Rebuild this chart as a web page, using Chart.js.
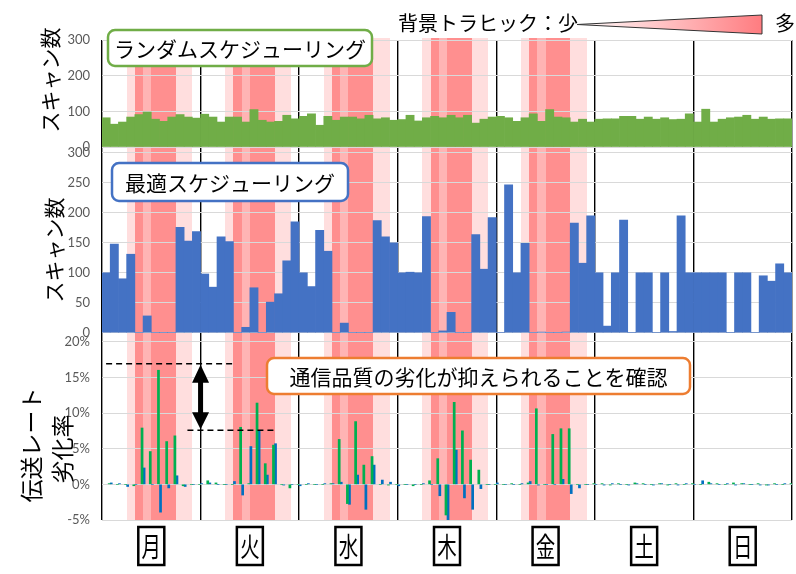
<!DOCTYPE html>
<html>
<head>
<meta charset="utf-8">
<script src="https://cdn.jsdelivr.net/npm/chart.js@4.4.1/dist/chart.umd.min.js"></script>
<style>
  html, body { margin: 0; padding: 0; background: #fff; }
  #wrap { position: relative; width: 796px; height: 574px; }
</style>
</head>
<body>
<div id="wrap"><canvas id="chart" width="796" height="574"></canvas></div>
<script>
// ---- データ ----
const days = ["月", "火", "水", "木", "金", "土", "日"];
const slotsPerDay = 12; // 2時間ごと

// 背景トラヒック (0:なし 1:少 2:中 3:多)、平日のみ
const trafficWeekday = [0, 0, 0, 1, 3, 2, 3, 3, 3, 1, 1, 0];
const isWeekday = [true, true, true, true, true, false, false];

// 目盛り
const scanTicksTop = [0, 100, 200, 300];
const scanTicksMid = [0, 50, 100, 150, 200, 250, 300];
const rateTicks = [-5, 0, 5, 10, 15, 20];

// ランダムスケジューリングのスキャン数 (曜日ごと)
const randomScan = [
  [82, 64, 70, 84, 91, 98, 78, 72, 84, 91, 84, 81],
  [92, 84, 70, 84, 84, 70, 105, 75, 70, 72, 89, 79],
  [86, 93, 61, 86, 75, 84, 84, 79, 89, 79, 82, 75],
  [77, 89, 73, 82, 86, 82, 89, 82, 89, 67, 78, 84],
  [86, 82, 72, 82, 93, 72, 105, 84, 82, 70, 78, 70],
  [78, 79, 79, 86, 86, 78, 84, 78, 82, 77, 78, 93],
  [70, 106, 70, 78, 82, 84, 89, 78, 84, 78, 79, 79],
];

// 最適スケジューリングのスキャン数
const optimalScan = [
  [100, 148, 90, 131, 0, 28, 0, 0, 0, 176, 153, 169],
  [98, 76, 160, 152, 0, 9, 75, 0, 51, 65, 120, 185],
  [100, 77, 171, 136, 0, 16, 0, 0, 0, 187, 160, 150],
  [100, 101, 100, 194, 0, 3, 34, 0, 0, 164, 106, 192],
  [0, 247, 100, 149, 0, 1, 0, 0, 1, 183, 116, 195],
  [100, 11, 100, 188, 0, 100, 100, 0, 100, 2, 195, 100],
  [100, 100, 100, 100, 0, 100, 100, 0, 95, 86, 115, 100],
];

// 伝送レート劣化率 (%) : ランダム(緑) / 最適(青)
const degRandom = [
  [0.1, 0.0, 0.0, -0.2, 7.9, 4.6, 16.0, 6.0, 6.8, -0.2, 0.0, 0.0],
  [0.5, 0.2, 0.0, 0.0, 8.0, 0.1, 11.4, 2.9, 5.5, 0.0, -0.5, 0.0],
  [0.0, 0.0, 0.0, 0.1, 6.3, -2.7, 8.8, 2.7, 3.9, 0.0, -0.1, 0.0],
  [0.0, -0.2, 0.0, 0.5, 3.6, -4.3, 11.5, 7.5, 3.4, 2.0, 0.0, 0.0],
  [0.0, 0.1, 0.0, 0.2, 10.6, 0.0, 7.0, 7.8, 7.8, 0.0, 0.0, 0.1],
  [0.1, -0.1, 0.1, 0.0, 0.2, 0.1, 0.0, 0.1, -0.1, 0.1, 0.0, 0.1],
  [0.0, 0.3, 0.1, 0.0, 0.2, 0.1, 0.0, 0.1, -0.1, 0.1, 0.0, 0.1],
];
const degOptimal = [
  [0.2, 0.1, -0.3, 0.0, 2.3, 0.0, -3.9, -0.5, 1.2, -0.3, 0.0, 0.1],
  [0.2, 0.0, 0.0, 0.4, -1.5, 5.3, 7.5, 1.3, 5.7, -0.1, 0.0, -0.2],
  [0.1, 0.0, 0.1, 0.1, 0.3, -2.8, 1.3, -3.5, 2.7, 0.6, 0.3, -0.2],
  [0.0, 0.0, 0.1, 0.0, -1.6, -5.3, 4.8, -1.9, -3.5, -0.6, 0.0, 0.2],
  [0.0, 0.0, 0.1, 0.4, -0.1, 0.0, 0.0, 0.7, -1.3, -0.5, 0.0, 0.0],
  [-0.1, 0.1, 0.0, -0.1, 0.1, 0.0, -0.1, 0.1, 0.0, -0.1, 0.1, 0.0],
  [0.5, 0.1, 0.0, 0.1, -0.1, 0.1, 0.0, -0.1, -0.1, 0.0, 0.1, 0.0],
];

// ---- 見た目 ----
const bandColors = [null, "#FFDEDE", "#FFB4B4", "#FF8F8F"];
const tickFont = { family: "Lato", size: 13 };
const tickColor = "#595959";
const gridColor = "#D9D9D9";
const jpFont = '"Noto Sans CJK JP"';

// 行ごとの配列を {x, y} に変換
function toPoints(rows, offset) {
  return rows.flat().map((v, i) => ({ x: i + offset, y: v }));
}

function fixedTicks(values) {
  return (scale) => {
    scale.ticks = values.map((v) => ({ value: v }));
  };
}

function roundRect(ctx, x, y, w, h, r) {
  ctx.beginPath();
  ctx.moveTo(x + r, y);
  ctx.arcTo(x + w, y, x + w, y + h, r);
  ctx.arcTo(x + w, y + h, x, y + h, r);
  ctx.arcTo(x, y + h, x, y, r);
  ctx.arcTo(x, y, x + w, y, r);
  ctx.closePath();
}

function labelBox(ctx, text, x, y, w, h, border) {
  ctx.save();
  roundRect(ctx, x, y, w, h, 7);
  ctx.fillStyle = "#fff";
  ctx.fill();
  ctx.lineWidth = 2.5;
  ctx.strokeStyle = border;
  ctx.stroke();
  ctx.fillStyle = "#000";
  ctx.font = "21px " + jpFont;
  ctx.textAlign = "center";
  ctx.textBaseline = "middle";
  ctx.fillText(text, x + w / 2, y + h / 2 + 1);
  ctx.restore();
}

function verticalText(ctx, text, cx, cy, size) {
  ctx.save();
  ctx.translate(cx, cy);
  ctx.rotate(-Math.PI / 2);
  ctx.font = size + "px " + jpFont;
  ctx.fillStyle = "#000";
  ctx.textAlign = "center";
  ctx.textBaseline = "middle";
  ctx.fillText(text, 0, 0);
  ctx.restore();
}

// 背景トラヒックの帯
const backgroundBands = {
  id: "backgroundBands",
  beforeDraw(chart) {
    const { ctx, chartArea, scales } = chart;
    const x = scales.x;
    ctx.save();
    days.forEach((d, i) => {
      if (!isWeekday[i]) return;
      trafficWeekday.forEach((lv, s) => {
        if (!lv) return;
        const x0 = Math.round(x.getPixelForValue(i * slotsPerDay + s));
        const x1 = Math.round(x.getPixelForValue(i * slotsPerDay + s + 1));
        ctx.fillStyle = bandColors[lv];
        ctx.fillRect(x0, chartArea.top - 2, x1 - x0, chartArea.bottom - chartArea.top + 2);
      });
    });
    ctx.restore();
  },
};

// 注釈・凡例・曜日ラベル
const annotations = {
  id: "annotations",
  afterDraw(chart) {
    const { ctx, scales } = chart;
    const x = scales.x;
    const yB = scales.yB;

    // 軸タイトル
    verticalText(ctx, "スキャン数", 50, 80, 21);
    verticalText(ctx, "スキャン数", 54, 250, 21);
    verticalText(ctx, "伝送レート", 31, 445, 23);
    verticalText(ctx, "劣化率", 62, 449, 23);

    // 系列ラベル
    labelBox(ctx, "ランダムスケジューリング", 108, 30, 264, 36, "#70AD47");
    labelBox(ctx, "最適スケジューリング", 112, 163, 236, 38, "#4472C4");

    // 破線と矢印
    const guides = [
      { level: 16.9, from: 0.5, to: 15.9 },
      { level: 7.6, from: 10.4, to: 21.2 },
    ];
    ctx.save();
    ctx.strokeStyle = "#000";
    ctx.lineWidth = 1.5;
    ctx.setLineDash([6, 4]);
    guides.forEach((g) => {
      const py = yB.getPixelForValue(g.level);
      ctx.beginPath();
      ctx.moveTo(x.getPixelForValue(g.from), py);
      ctx.lineTo(x.getPixelForValue(g.to), py);
      ctx.stroke();
    });
    ctx.setLineDash([]);
    const ax = x.getPixelForValue(12);
    const yTop = yB.getPixelForValue(guides[0].level) + 1;
    const yBot = yB.getPixelForValue(guides[1].level) - 1;
    ctx.fillStyle = "#000";
    ctx.fillRect(ax - 2.5, yTop + 14, 5, yBot - yTop - 28);
    ctx.beginPath();
    ctx.moveTo(ax, yTop);
    ctx.lineTo(ax - 8.5, yTop + 18);
    ctx.lineTo(ax + 8.5, yTop + 18);
    ctx.closePath();
    ctx.fill();
    ctx.beginPath();
    ctx.moveTo(ax, yBot);
    ctx.lineTo(ax - 8.5, yBot - 17);
    ctx.lineTo(ax + 8.5, yBot - 17);
    ctx.closePath();
    ctx.fill();
    ctx.restore();

    labelBox(ctx, "通信品質の劣化が抑えられることを確認", 267, 358, 423, 36, "#ED7D31");

    // 背景トラヒック凡例
    ctx.save();
    ctx.font = "20px " + jpFont;
    ctx.fillStyle = "#000";
    ctx.textBaseline = "middle";
    ctx.textAlign = "left";
    ctx.fillText("背景トラヒック：少", 398, 23);
    ctx.fillText("多", 775, 23);
    const grad = ctx.createLinearGradient(577, 0, 762, 0);
    grad.addColorStop(0, "#FFFFFF");
    grad.addColorStop(1, "#FF7C80");
    ctx.beginPath();
    ctx.moveTo(577, 24.5);
    ctx.lineTo(762, 15);
    ctx.lineTo(762, 34);
    ctx.closePath();
    ctx.fillStyle = grad;
    ctx.fill();
    ctx.strokeStyle = "#333";
    ctx.lineWidth = 1;
    ctx.stroke();
    ctx.restore();

    // 曜日ラベル (枠付き)
    ctx.save();
    days.forEach((d, i) => {
      const cx = x.getPixelForValue(i * slotsPerDay + slotsPerDay / 2);
      const cy = 546;
      ctx.lineWidth = 2.5;
      ctx.strokeStyle = "#000";
      ctx.strokeRect(cx - 13, cy - 19, 26, 38);
      ctx.save();
      ctx.translate(cx, cy);
      ctx.scale(0.72, 1);
      ctx.font = "27px " + jpFont;
      ctx.fillStyle = "#000";
      ctx.textAlign = "center";
      ctx.textBaseline = "middle";
      ctx.fillText(d, 0, 1);
      ctx.restore();
    });
    ctx.restore();
  },
};

const yTickOpts = { color: tickColor, font: tickFont, padding: 12, autoSkip: false };

const ctx = document.getElementById("chart").getContext("2d");
new Chart(ctx, {
  type: "bar",
  data: {
    datasets: [
      {
        label: "ランダムスケジューリング",
        data: toPoints(randomScan, 0.5),
        xAxisID: "x",
        yAxisID: "yT",
        backgroundColor: "#70AD47",
        grouped: false,
      },
      {
        label: "最適スケジューリング",
        data: toPoints(optimalScan, 0.5),
        xAxisID: "x",
        yAxisID: "yM",
        backgroundColor: "#4472C4",
        grouped: false,
      },
      {
        label: "劣化率(ランダム)",
        data: toPoints(degRandom, 1),
        xAxisID: "x2",
        yAxisID: "yB",
        backgroundColor: "#00B050",
      },
      {
        label: "劣化率(最適)",
        data: toPoints(degOptimal, 1),
        xAxisID: "x2",
        yAxisID: "yB",
        backgroundColor: "#0070C0",
      },
    ],
  },
  options: {
    responsive: false,
    animation: false,
    layout: { padding: { top: 40, right: 4, left: 0, bottom: 0 } },
    datasets: {
      bar: { categoryPercentage: 1, barPercentage: 1, borderWidth: 0 },
    },
    plugins: {
      legend: { display: false },
      tooltip: { enabled: false },
    },
    scales: {
      x: {
        type: "linear",
        min: 0,
        max: 84,
        offset: false,
        ticks: { stepSize: 12, display: false, autoSkip: false },
        afterBuildTicks: fixedTicks([0, 12, 24, 36, 48, 60, 72, 84]),
        grid: { offset: false, color: "#000", lineWidth: 1.4, drawTicks: false },
        border: { display: false },
        afterFit(scale) {
          scale.height = 54;
        },
      },
      x2: {
        type: "linear",
        min: 0,
        max: 84,
        offset: false,
        grid: { offset: false },
        display: false,
      },
      yB: {
        type: "linear",
        position: "left",
        stack: "panels",
        stackWeight: 183,
        min: -5,
        max: 20.66,
        afterBuildTicks: fixedTicks(rateTicks),
        ticks: Object.assign({}, yTickOpts, { callback: (v) => v + "%" }),
        grid: { color: gridColor, drawTicks: false },
        border: { display: false },
        afterFit(scale) {
          scale.width = 102;
        },
      },
      yM: {
        type: "linear",
        position: "left",
        stack: "panels",
        stackWeight: 187,
        min: -7.2,
        max: 305,
        afterBuildTicks: fixedTicks(scanTicksMid),
        ticks: yTickOpts,
        grid: { color: gridColor, drawTicks: false },
        border: { display: false },
        afterFit(scale) {
          scale.width = 102;
        },
      },
      yT: {
        type: "linear",
        position: "left",
        stack: "panels",
        stackWeight: 110,
        min: -8.4,
        max: 300,
        afterBuildTicks: fixedTicks(scanTicksTop),
        ticks: yTickOpts,
        grid: { color: gridColor, drawTicks: false },
        border: { display: false },
        afterFit(scale) {
          scale.width = 102;
        },
      },
    },
  },
  plugins: [backgroundBands, annotations],
});
</script>
</body>
</html>
